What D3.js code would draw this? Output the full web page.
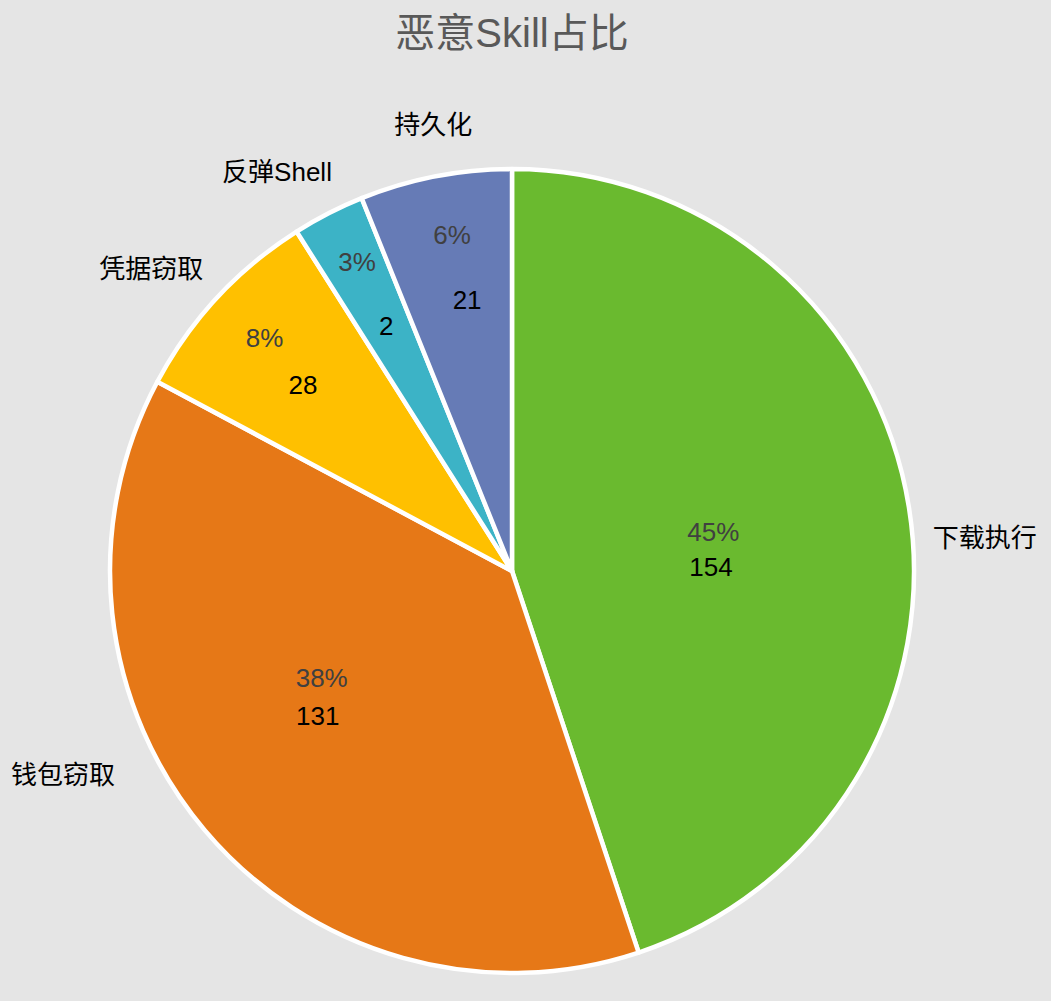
<!DOCTYPE html>
<html><head><meta charset="utf-8">
<script src="https://cdn.jsdelivr.net/npm/d3@7"></script>
<style>
html,body{margin:0;padding:0;background:#e5e5e5;}
svg{display:block;}
text{font-family:"Liberation Sans","Noto Sans CJK SC",Arial,sans-serif;}
</style></head>
<body>
<svg id="chart" width="1051" height="1001"></svg>
<script>
// ---- data ----
const categories = ["下载执行", "钱包窃取", "凭据窃取", "反弹Shell", "持久化"];
const shares = [44.9, 37.9, 8.2, 2.9, 6.1];  // slice share in percent (label rounds it)
const counts = [154, 131, 28, 2, 21];          // count labels
const titleText = "恶意Skill占比";

// ---- style / layout ----
const colors = ["#6aba2f", "#e67817", "#ffc000", "#3cb3c6", "#667bb6"];
const W = 1051, H = 1001;
const cx = 512, cy = 571, R = 402;
// label placement in polar form: [angle deg clockwise from top, radius]
const pctPos   = [[79.0, 205], [240.8, 218], [313.3, 340], [333.4, 346], [349.9, 342]];
const cntPos   = [[88.8, 199], [233.4, 242], [311.7, 280], [332.9, 276], [350.6, 275]];
const namePos  = [[86.0, 474], [245.6, 493], [310.0, 471], [329.5, 463], [350.0, 453]];

const svg = d3.select("#chart");
svg.append("rect").attr("width", W).attr("height", H).attr("fill", "#e5e5e5");

svg.append("text")
  .attr("x", 512).attr("y", 47)
  .attr("text-anchor", "middle")
  .attr("font-size", 40)
  .attr("fill", "#595959")
  .text(titleText);

const data = categories.map((c, i) => ({cat: c, share: shares[i], count: counts[i], i}));
const pie = d3.pie().value(d => d.share).sort(null).startAngle(0).endAngle(2 * Math.PI);
const arc = d3.arc().innerRadius(0).outerRadius(R);
const color = d3.scaleOrdinal().domain(categories).range(colors);

const g = svg.append("g").attr("transform", `translate(${cx},${cy})`);
g.selectAll("path.slice").data(pie(data)).join("path")
  .attr("class", "slice")
  .attr("d", arc)
  .attr("fill", d => color(d.data.cat))
  .attr("stroke", "#ffffff")
  .attr("stroke-width", 4.5)
  .attr("stroke-linejoin", "round");

function polar(p) {
  const a = p[0] * Math.PI / 180;
  return [p[1] * Math.sin(a), -p[1] * Math.cos(a)];
}

g.selectAll("text.pct").data(data).join("text")
  .attr("class", "pct")
  .attr("transform", d => `translate(${polar(pctPos[d.i])})`)
  .attr("text-anchor", "middle").attr("dy", "0.36em")
  .attr("font-size", 26).attr("fill", "#404040")
  .text(d => Math.round(d.share) + "%");

g.selectAll("text.cnt").data(data).join("text")
  .attr("class", "cnt")
  .attr("transform", d => `translate(${polar(cntPos[d.i])})`)
  .attr("text-anchor", "middle").attr("dy", "0.36em")
  .attr("font-size", 26).attr("fill", "#000000")
  .text(d => d.count);

g.selectAll("text.name").data(data).join("text")
  .attr("class", "name")
  .attr("transform", d => `translate(${polar(namePos[d.i])})`)
  .attr("text-anchor", "middle").attr("dy", "0.36em")
  .attr("font-size", 26).attr("fill", "#000000")
  .text(d => d.cat);
</script>
</body></html>
